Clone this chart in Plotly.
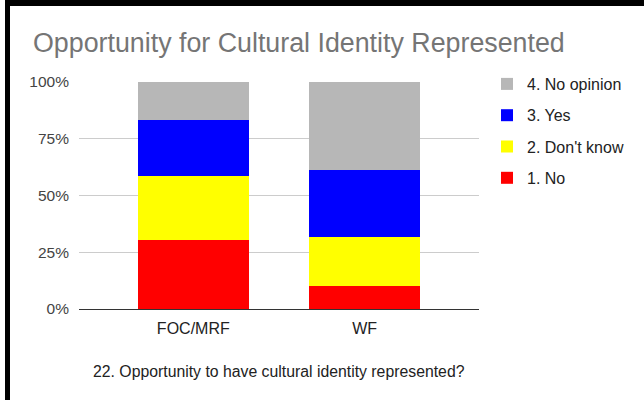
import plotly.graph_objects as go

W, H = 644, 400

categories = ["FOC/MRF", "WF"]
series_names = ["1. No", "2. Don't know", "3. Yes", "4. No opinion"]
values_no = [30.4, 10.0]
values_dont_know = [28.2, 21.6]
values_yes = [24.7, 29.6]
values_no_opinion = [16.7, 38.8]
series_colors = ["#ff0000", "#ffff00", "#0000ff", "#b7b7b7"]
y_tick_vals = [0, 25, 50, 75, 100]
y_tick_text = ["0%", "25%", "50%", "75%", "100%"]

title_text = "Opportunity for Cultural Identity Represented"
x_title_text = "22. Opportunity to have cultural identity represented?"

FONT = "Arial, 'Liberation Sans', sans-serif"

def px_x(p):
    return p / W

def px_y(p):
    return 1 - p / H

fig = go.Figure()
all_values = [values_no, values_dont_know, values_yes, values_no_opinion]
n_series = len(series_names)
for i, (name, vals, col) in enumerate(zip(series_names, all_values, series_colors)):
    fig.add_trace(go.Bar(
        x=categories, y=vals, name=name,
        marker=dict(color=col, line=dict(width=0)),
        legendgroup=f"g{i}",
        legendrank=1000 + (n_series - i),
    ))

fig.update_layout(
    template="none",
    width=W, height=H,
    margin=dict(l=0, r=0, t=0, b=0, pad=0, autoexpand=False),
    paper_bgcolor="white", plot_bgcolor="white",
    barmode="stack", bargap=0.352,
    font=dict(family=FONT, size=16, color="#222222"),
    showlegend=True,
    legend=dict(
        x=px_x(487), xanchor="left",
        y=px_y(67), yanchor="top",
        traceorder="grouped",
        tracegroupgap=7.5,
        font=dict(size=16, color="#222222"),
        bgcolor="rgba(0,0,0,0)",
    ),
    xaxis=dict(
        domain=[px_x(79), px_x(479)],
        range=[-0.667, 1.667],
        automargin=False,
        showgrid=False, showline=False, zeroline=False,
        ticks="", ticklabelstandoff=8,
        tickfont=dict(size=16, color="#222222"),
    ),
    yaxis=dict(
        domain=[px_y(309), px_y(82)],
        range=[0, 100],
        automargin=False,
        tickvals=y_tick_vals, ticktext=y_tick_text,
        showgrid=True, gridcolor="#cccccc", gridwidth=1,
        zeroline=True, zerolinecolor="#333333", zerolinewidth=1,
        showline=False, ticks="", ticklabelstandoff=9,
        tickfont=dict(size=15.5, color="#444444"),
    ),
    annotations=[
        dict(text=title_text, xref="paper", yref="paper",
             x=px_x(31), y=px_y(43), xanchor="left", yanchor="middle",
             showarrow=False, font=dict(size=26.8, color="#757575", family=FONT)),
        dict(text=x_title_text, xref="paper", yref="paper",
             x=px_x(279), y=px_y(371), xanchor="center", yanchor="middle",
             showarrow=False, font=dict(size=15.8, color="#222222", family=FONT)),
    ],
    shapes=[
        dict(type="rect", xref="paper", yref="paper",
             x0=px_x(5), x1=px_x(10), y0=0, y1=1,
             fillcolor="black", line=dict(width=0), layer="above"),
        dict(type="rect", xref="paper", yref="paper",
             x0=px_x(5), x1=1, y0=px_y(6), y1=1,
             fillcolor="black", line=dict(width=0), layer="above"),
    ],
)

fig.write_html(
    "out.html",
    config={"displayModeBar": False},
    post_script=(
        "document.documentElement.style.margin='0';"
        "document.body.style.margin='0';document.body.style.padding='0';"
        "var d=document.getElementById('{plot_id}');"
        "d.style.position='fixed';d.style.top='0px';d.style.left='0px';"
    ),
)
